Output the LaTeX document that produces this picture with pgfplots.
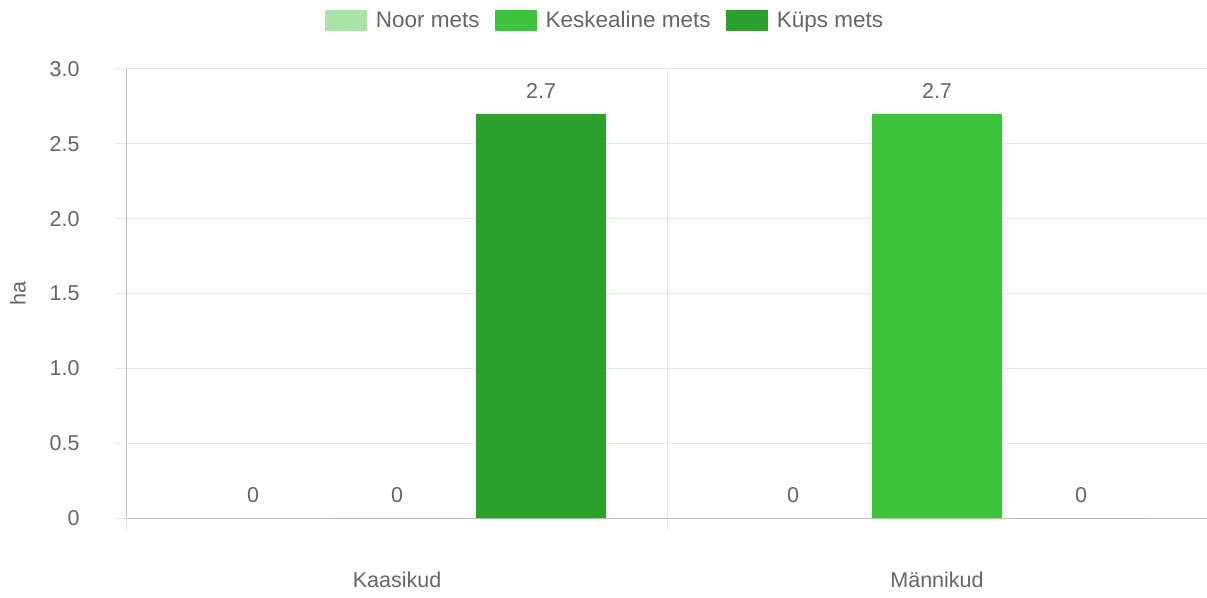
\documentclass[border=0pt]{standalone}
\usepackage{fontspec}
\setmainfont{Liberation Sans}
\usepackage{pgfplots}
\pgfplotsset{compat=1.18}
\definecolor{noor}{HTML}{A8E4A8}
\definecolor{kesk}{HTML}{3CC43C}
\definecolor{kups}{HTML}{2CA02C}
\definecolor{txt}{HTML}{666666}
\definecolor{gridc}{HTML}{E6E6E6}
\definecolor{axc}{HTML}{C0C0C0}
\begin{document}
\begin{tikzpicture}[x=1pt,y=1pt]
\useasboundingbox (0,0) rectangle (1207,597);
\begin{axis}[
  at={(127pt,79pt)}, anchor=south west,
  scale only axis, width=1080pt, height=449pt,
  xmin=-0.5, xmax=1.5, ymin=0, ymax=3,
  ybar, bar width=0.2407,
  font=\fontsize{21.5}{26}\selectfont,
  /pgf/number format/assume math mode=true,
  axis x line*=bottom, axis y line*=left,
  axis line style={draw=axc, line width=1pt},
  xtick={0,1}, xticklabels={Kaasikud,Männikud},
  minor xtick={-0.5,0.5,1.5},
  ytick={0,0.5,1,1.5,2,2.5,3}, yticklabels={0,0.5,1.0,1.5,2.0,2.5,3.0},
  ymajorgrids, xminorgrids,
  grid style={draw=gridc, line width=1pt},
  tick align=outside,
  major tick length=12pt, minor tick length=12pt,
  major x tick style={draw=none},
  minor x tick style={draw=gridc, line width=1pt},
  major y tick style={draw=gridc, line width=1pt},
  tick label style={text=txt},
  xticklabel style={anchor=center, yshift=-50pt},
  yticklabel style={anchor=east, xshift=-32pt},
  ylabel={ha},
  ylabel style={at={(axis description cs:-0.101,0.5)}, anchor=center, text=txt},
  nodes near coords,
  every node near coord/.append style={text=txt, yshift=12pt},
  legend style={at={(0.4426,1.109)}, anchor=center, draw=none, fill=none,
    legend columns=3, text=txt, font=\fontsize{22.5}{26}\selectfont,
    /tikz/every odd column/.append style={column sep=7pt},
    /tikz/every even column/.append style={column sep=13pt}},
  legend image code/.code={\fill[#1] (0pt,-10.5pt) rectangle (42pt,10.5pt);},
]
\addplot[fill=noor, draw=none, bar shift=-0.2667] coordinates {(0,0) (1,0)};
\addlegendentry{Noor mets}
\addplot[fill=kesk, draw=none, bar shift=0] coordinates {(0,0) (1,2.7)};
\addlegendentry{Keskealine mets}
\addplot[fill=kups, draw=none, bar shift=0.2667] coordinates {(0,2.7) (1,0)};
\addlegendentry{Küps mets}
\end{axis}
\end{tikzpicture}
\end{document}
